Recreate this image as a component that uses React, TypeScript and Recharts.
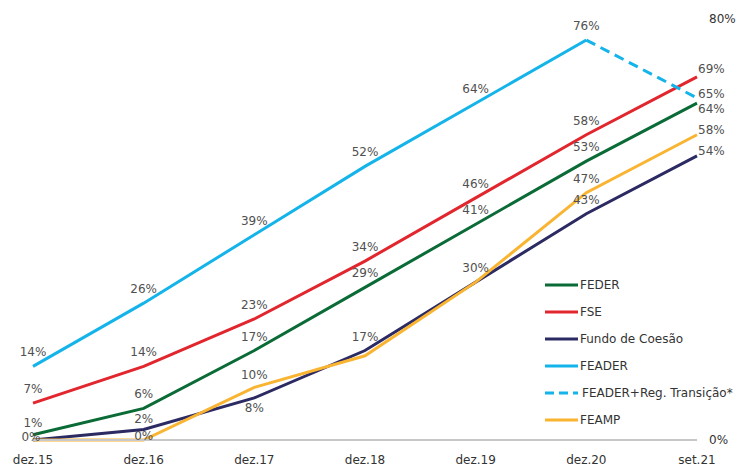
import React from 'react';
import { LineChart, Line, XAxis, YAxis } from 'recharts';

const periods = ['dez.15', 'dez.16', 'dez.17', 'dez.18', 'dez.19', 'dez.20', 'set.21'];
const feder = [1, 6, 17, 29, 41, 53, 64];
const fse = [7, 14, 23, 34, 46, 58, 69];
const fundoCoesao = [0, 2, 8, 17, 30, 43, 54];
const feader = [14, 26, 39, 52, 64, 76, null];
const feaderTransicao = [null, null, null, null, null, 76, 65];
const feamp = [0, 0, 10, 16, 30, 47, 58];
const rightTicks = [0, 80];

const data = periods.map((p, i) => ({
  period: p,
  feder: feder[i],
  fse: fse[i],
  fundo: fundoCoesao[i],
  feader: feader[i],
  feaderT: feaderTransicao[i],
  feamp: feamp[i],
}));

const series = [
  { key: 'feder', name: 'FEDER', color: '#0b6b37', dash: undefined },
  { key: 'fse', name: 'FSE', color: '#e1262e', dash: undefined },
  { key: 'fundo', name: 'Fundo de Coesão', color: '#2c2a63', dash: undefined },
  { key: 'feader', name: 'FEADER', color: '#14b4ea', dash: undefined },
  { key: 'feaderT', name: 'FEADER+Reg. Transição*', color: '#14b4ea', dash: '10 6' },
  { key: 'feamp', name: 'FEAMP', color: '#f9b431', dash: undefined },
];

// label placement tweaks: [dx, dy, anchor]
const labelTweaks: Record<string, Record<number, [number, number, string]>> = {
  feder: { 0: [0, -12, 'middle'], 6: [1, 6, 'start'] },
  fse: { 6: [1, -8, 'start'] },
  fundo: { 0: [-2, -3, 'middle'], 1: [0, -10, 'middle'], 2: [0, 10, 'middle'], 6: [1, -5, 'start'] },
  feamp: { 1: [0, -4, 'middle'], 2: [0, -12, 'middle'], 6: [1, -5, 'start'] },
  feaderT: { 6: [1, -4, 'start'] },
};
const hiddenLabels: Record<string, number[]> = {
  feamp: [0, 3, 4],
  feaderT: [5],
};

const makeLabel = (key: string) => (props: any) => {
  const { x, y, index, value } = props;
  if (value == null || x == null || y == null) return null;
  if ((hiddenLabels[key] || []).includes(index)) return null;
  const t = (labelTweaks[key] || {})[index] || [0, -14, 'middle'];
  return (
    <text
      key={`${key}-${index}`}
      x={x + t[0]}
      y={y + t[1]}
      textAnchor={t[2]}
      dominantBaseline="central"
      fontSize={12}
      fill="#505050"
      fontFamily="DejaVu Sans"
    >
      {value}%
    </text>
  );
};

const LegendBox = () => (
  <div style={{ position: 'absolute', left: 545, top: 271, fontFamily: 'DejaVu Sans', fontSize: 12, color: '#333' }}>
    {series.map((s) => (
      <div key={s.key} style={{ display: 'flex', alignItems: 'center', height: 27 }}>
        <svg width={34} height={6}>
          <line x1={0} y1={3} x2={33} y2={3} stroke={s.color} strokeWidth={3} strokeDasharray={s.dash ? '9 5' : undefined} />
        </svg>
        <span style={{ marginLeft: s.dash ? 3 : 1 }}>{s.name}</span>
      </div>
    ))}
  </div>
);

export default function App() {
  return (
    <div style={{ position: 'absolute', left: 0, top: 0, width: 738, height: 467, background: '#fff' }}>
      <LineChart width={738} height={467} data={data} margin={{ top: 19, right: 0, bottom: 0, left: 33 }}>
        <XAxis
          dataKey="period"
          height={27}
          tickLine={false}
          tickSize={0}
          tickMargin={15}
          axisLine={{ stroke: '#c8c8c8', strokeWidth: 2 }}
          tick={{ fontSize: 12, fill: '#333', fontFamily: 'DejaVu Sans' }}
          interval={0}
        />
        <YAxis
          yAxisId="r"
          orientation="right"
          width={41}
          domain={[0, 80]}
          ticks={rightTicks}
          tickLine={false}
          axisLine={false}
          tickSize={0}
          tickMargin={12}
          tickFormatter={(v) => `${v}%`}
          tick={{ fontSize: 12, fill: '#333', fontFamily: 'DejaVu Sans', textAnchor: 'start' }}
        />
        {series.map((s) => (
          <Line
            key={s.key}
            yAxisId="r"
            dataKey={s.key}
            name={s.name}
            stroke={s.color}
            strokeWidth={3}
            strokeDasharray={s.dash}
            dot={false}
            activeDot={false}
            type="linear"
            connectNulls={false}
            isAnimationActive={false}
            label={makeLabel(s.key)}
          />
        ))}
      </LineChart>
      <LegendBox />
    </div>
  );
}
